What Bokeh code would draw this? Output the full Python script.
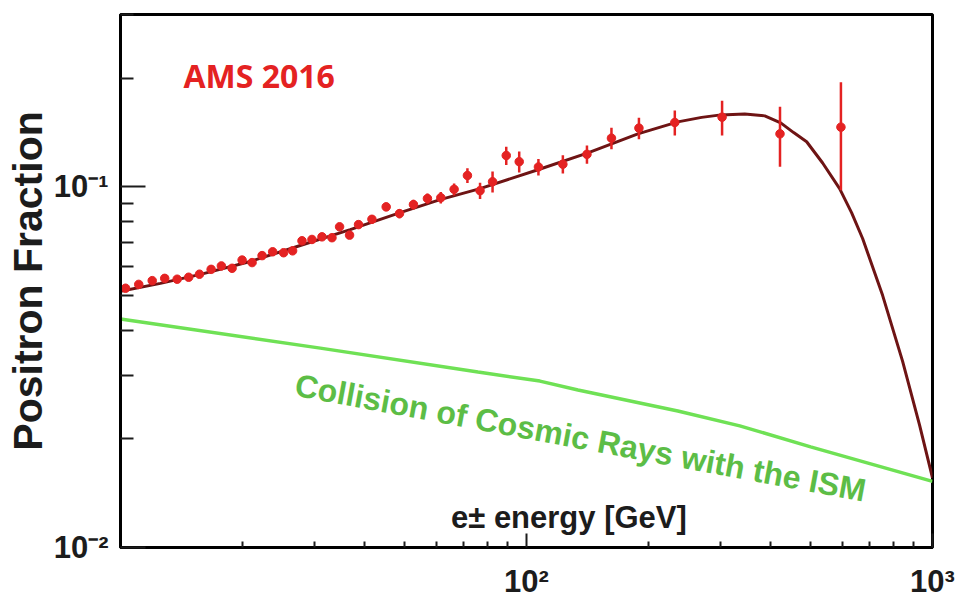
import math
from bokeh.plotting import figure
from bokeh.models import Range1d, FixedTicker, Label, ColumnDataSource
from bokeh.embed import file_html
from bokeh.resources import INLINE

# ---------------- data ----------------
energy = [10.29, 11.09, 11.97, 12.85, 13.79, 14.72, 15.65, 16.72, 17.72, 18.83,
          19.93, 21.09, 22.32, 23.70, 25.22, 26.54, 27.99, 29.62, 31.35, 33.18,
          34.64, 36.66, 38.57, 41.62, 45.12, 48.66, 52.67, 57.02, 61.51, 66.33,
          71.53, 76.84, 82.49, 89.15, 95.95, 107.0, 122.9, 140.9, 161.9, 189.2,
          231.9, 303.2, 421.1, 594.9]
fraction = [0.0523, 0.0536, 0.0549, 0.0557, 0.0554, 0.0561, 0.0572, 0.0590, 0.0603, 0.0594,
            0.0626, 0.0616, 0.0644, 0.0660, 0.0656, 0.0664, 0.0708, 0.0714, 0.0726, 0.0722,
            0.0774, 0.0734, 0.0785, 0.0812, 0.0879, 0.0842, 0.0892, 0.0927, 0.0932, 0.0983,
            0.1074, 0.0975, 0.1032, 0.1220, 0.1173, 0.1134, 0.1154, 0.1229, 0.1363, 0.1453,
            0.1506, 0.1558, 0.1401, 0.1462]
fraction_err = [0.0009, 0.0009, 0.0009, 0.0009, 0.0009, 0.0009, 0.0009, 0.0010, 0.0010, 0.0010,
                0.0010, 0.0011, 0.0011, 0.0012, 0.0012, 0.0013, 0.0014, 0.0014, 0.0015, 0.0015,
                0.0017, 0.0017, 0.0018, 0.0020, 0.0024, 0.0025, 0.0028, 0.0031, 0.0034, 0.0038,
                0.0050, 0.0050, 0.0069, 0.0071, 0.0079, 0.0060, 0.0067, 0.0072, 0.0094, 0.0100,
                0.0120, 0.0173, 0.0265, 0.0485]

fit_energy = [10.0, 12.54, 15.74, 20.88, 27.72, 36.80, 48.85, 61.27, 76.84, 106.7,
              141.7, 188.1, 235.9, 270.0, 301.0, 344.7, 386.2, 422.8, 455.0, 489.8,
              536.3, 590.5, 631.9, 672.8, 753.5, 843.8, 929.0, 1000.0]
fit_fraction = [0.05128, 0.05395, 0.05713, 0.06205, 0.06871, 0.07605, 0.08477, 0.09206, 0.09874, 0.1114,
                0.1241, 0.1401, 0.1512, 0.1556, 0.1581, 0.1591, 0.1571, 0.1502, 0.1412, 0.1332,
                0.1163, 0.09874, 0.0847, 0.07184, 0.04999, 0.03285, 0.02187, 0.0156]

bkg_energy = [10.0, 31.05, 75.97, 107.9, 133.9, 235.9, 335.2, 501.0, 1000.0]
bkg_fraction = [0.04299, 0.03569, 0.03063, 0.02892, 0.02732, 0.02390, 0.02173, 0.01901, 0.01525]

x_major = [100, 1000]
x_minor = [20, 30, 40, 50, 60, 70, 80, 90, 200, 300, 400, 500, 600, 700, 800, 900]
x_tick_labels = ["10\u00b2", "10\u00b3"]
y_major = [0.01, 0.1]
y_minor = [0.02, 0.03, 0.04, 0.05, 0.06, 0.07, 0.08, 0.09, 0.2, 0.3]
y_tick_labels = ["10\u207b\u00b2", "10\u207b\u00b9"]

RED = "#e42222"
FIT = "#6e1414"
GREEN_LINE = "#6fe155"
GREEN_TEXT = "#5cbd46"
INK = "#1c1c1c"

p = figure(width=958, height=601,
           x_axis_type="log", y_axis_type="log",
           x_range=Range1d(10, 1000), y_range=Range1d(0.01, 0.3),
           output_backend="svg", toolbar_location=None,
           min_border_left=120, min_border_right=26,
           min_border_top=14, min_border_bottom=51)
p.background_fill_color = "white"
p.border_fill_color = "white"
p.xgrid.grid_line_color = None
p.ygrid.grid_line_color = None
p.outline_line_color = "black"
p.outline_line_width = 3

for ax, maj, mnr, labs, mlen, nlen in ((p.xaxis[0], x_major, x_minor, x_tick_labels, 14, 6),
                                       (p.yaxis[0], y_major, y_minor, y_tick_labels, 25, 13)):
    ax.ticker = FixedTicker(ticks=maj, minor_ticks=mnr)
    ax.major_tick_in = mlen
    ax.major_tick_out = 0
    ax.minor_tick_in = nlen
    ax.minor_tick_out = 0
    ax.major_tick_line_color = INK
    ax.minor_tick_line_color = INK
    ax.major_tick_line_width = 2
    ax.minor_tick_line_width = 2
    ax.axis_line_color = "black"
    ax.axis_line_width = 3
    ax.major_label_overrides = {v: t for v, t in zip(maj, labs)}
    ax.major_label_text_font = "Liberation Sans"
    ax.major_label_text_font_style = "bold"
    ax.major_label_text_color = INK

p.xaxis.major_label_text_font_size = "31px"
p.xaxis.major_label_standoff = 16
p.yaxis.major_label_text_font_size = "31px"
p.yaxis.major_label_standoff = 12

p.yaxis.axis_label = "Positron Fraction"
p.yaxis.axis_label_text_font = "Liberation Sans"
p.yaxis.axis_label_text_font_style = "bold"
p.yaxis.axis_label_text_font_size = "41px"
p.yaxis.axis_label_text_color = INK
p.yaxis.axis_label_standoff = 0

# background (collision) line
p.line(bkg_energy, bkg_fraction, line_color=GREEN_LINE, line_width=3.5)

# fit line
p.line(fit_energy, fit_fraction, line_color=FIT, line_width=3)

# data points with error bars
src = ColumnDataSource(dict(
    x=energy, y=fraction,
    lo=[f - e for f, e in zip(fraction, fraction_err)],
    hi=[f + e for f, e in zip(fraction, fraction_err)],
))
p.segment(x0="x", y0="lo", x1="x", y1="hi", source=src, line_color=RED, line_width=2.5)
p.scatter(x="x", y="y", source=src, marker="circle", size=8.5,
          fill_color=RED, line_color=RED)

# x-axis title (drawn inside the frame, as in the original)
p.add_layout(Label(x=127.2, y=0.0121, text="e\u00b1 energy [GeV]",
                   text_align="center", text_baseline="alphabetic",
                   text_font="Liberation Sans", text_font_style="bold",
                   text_font_size="31px", text_color=INK))

# annotations
p.add_layout(Label(x=14.29, y=0.2039, text="AMS 2016", text_align="left",
                   text_baseline="alphabetic", text_font="Open Sans",
                   text_font_style="bold", text_font_size="32px", text_color=RED))
p.add_layout(Label(x=135.8, y=0.02015, text="Collision of Cosmic Rays with the ISM",
                   angle=-0.1843, text_align="center", text_baseline="alphabetic",
                   text_font="Liberation Sans", text_font_style="bold",
                   text_font_size="32px", text_color=GREEN_TEXT))

open("out.html", "w").write(file_html(p, INLINE))
